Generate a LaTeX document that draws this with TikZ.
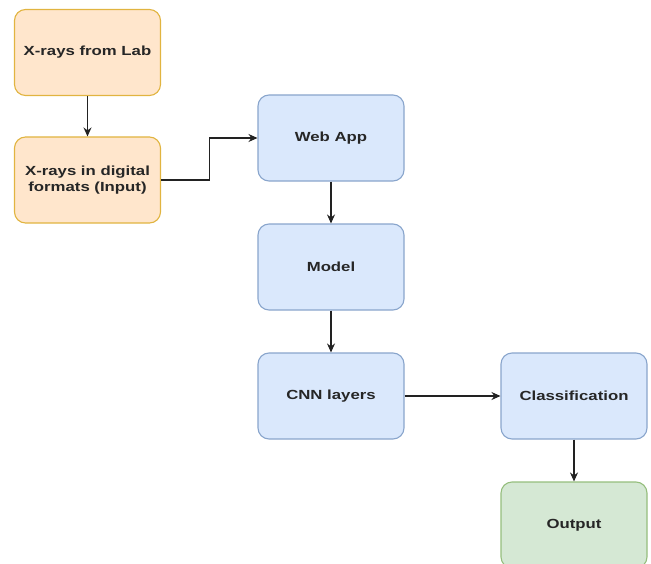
\documentclass[tikz,border=0pt]{standalone}
\usepackage{fontspec}
\setmainfont{Liberation Sans}[FakeStretch=1.27]
\usetikzlibrary{arrows.meta}
\definecolor{orfill}{HTML}{FFE6CC}
\definecolor{ordraw}{HTML}{D79B00}
\definecolor{blfill}{HTML}{DAE8FC}
\definecolor{bldraw}{HTML}{6C8EBF}
\definecolor{grfill}{HTML}{D5E8D4}
\definecolor{grdraw}{HTML}{82B366}
\definecolor{linec}{HTML}{222222}
\begin{document}
\begin{tikzpicture}[x=1bp,y=-1bp,
  box/.style={rectangle, rounded corners=11bp, minimum width=146bp, minimum height=86bp,
    line width=1.1bp, align=center, inner sep=2bp,
    font=\fontsize{13.2bp}{16bp}\selectfont\bfseries, text=black!85},
  orbox/.style={box, fill=orfill, draw=ordraw!75},
  blbox/.style={box, fill=blfill, draw=bldraw!80},
  grbox/.style={box, fill=grfill, draw=grdraw!85},
  arr/.style={draw=linec, line width=1.1bp, -{Stealth[length=9bp,width=8bp]}}]
\useasboundingbox (0,0) rectangle (651,564);
\node[orbox] (lab) at (87.5,52.5) {X-rays from Lab};
\node[orbox] (input) at (87.5,180) {X-rays in digital\\formats (Input)};
\node[blbox] (web) at (331,138) {Web App};
\node[blbox] (model) at (331,267) {Model};
\node[blbox] (cnn) at (331,396) {CNN layers};
\node[blbox] (cls) at (574,396) {Classification};
\node[grbox] (out) at (574,525) {Output};
\draw[arr] (lab) -- (input);
\draw[arr] (input.east) -- ++(48,0) |- (web.west);
\draw[arr] (web) -- (model);
\draw[arr] (model) -- (cnn);
\draw[arr] (cnn) -- (cls);
\draw[arr] (cls) -- (out);
\end{tikzpicture}
\end{document}
